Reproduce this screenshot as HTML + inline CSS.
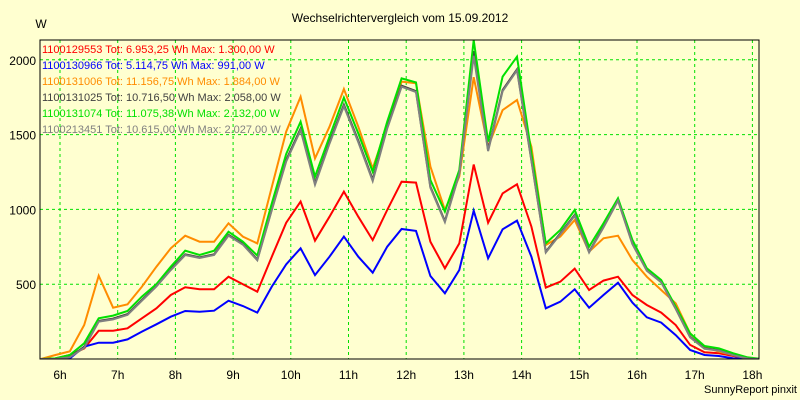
<!DOCTYPE html>
<html><head><meta charset="utf-8"><style>
body{margin:0;background:#ffffd0;}
svg{display:block;font-family:"Liberation Sans",sans-serif;}
</style></head><body>
<svg id="c" width="800" height="400" viewBox="0 0 800 400">
<rect x="0" y="0" width="800" height="400" fill="#ffffd0"/>
<text x="400" y="22" text-anchor="middle" font-size="12" fill="#000">Wechselrichtervergleich vom 15.09.2012</text>
<text x="41" y="28" text-anchor="middle" font-size="12" fill="#000">W</text>
<text x="797" y="393" text-anchor="end" font-size="11" fill="#000">SunnyReport pinxit</text>
<defs><clipPath id="clip"><rect x="40" y="40" width="719" height="319"/></clipPath></defs>
<g id="grid"></g><g id="series" clip-path="url(#clip)"></g><g id="legend"></g>
<rect x="40" y="40" width="719" height="319" fill="none" stroke="#000" stroke-width="1"/>
</svg>
<script>
const hourTicks=[6,7,8,9,10,11,12,13,14,15,16,17,18];
const yTicks=[500,1000,1500,2000];
const seriesNames=["1100129553","1100130966","1100131006","1100131025","1100131074","1100213451"];
const legendLabels=["1100129553 Tot: 6.953,25 Wh Max: 1.300,00 W","1100130966 Tot: 5.114,75 Wh Max: 991,00 W","1100131006 Tot: 11.156,75 Wh Max: 1.884,00 W","1100131025 Tot: 10.716,50 Wh Max: 2.058,00 W","1100131074 Tot: 11.075,38 Wh Max: 2.132,00 W","1100213451 Tot: 10.615,00 Wh Max: 2.027,00 W"];
const colors=["#ff0000","#0000ff","#ff8c00","#404040","#00e000","#808080"];
const startTime=5.67, stepHours=0.25;
const red=[0,4,27,71,189,189,205,272,339,428,479,466,466,550,499,450,684,911,1052,791,951,1119,951,795,996,1185,1179,784,606,773,1300,911,1107,1168,885,477,517,604,461,524,550,428,361,310,227,94,45,38,20,0,0];
const blue=[0,0,4,82,109,109,131,183,232,283,321,316,323,390,354,310,484,633,740,561,684,818,684,577,751,869,856,555,439,595,991,673,867,925,684,339,383,466,343,428,510,377,279,243,160,60,27,20,4,0,0];
const orange=[0,27,51,227,557,343,365,483,617,740,824,784,784,907,818,773,1150,1520,1753,1341,1553,1805,1553,1274,1560,1854,1843,1286,996,1219,1884,1419,1664,1731,1419,762,818,929,717,807,824,662,550,461,372,171,82,49,27,4,0];
const dark=[0,0,15,80,255,270,300,395,490,600,700,680,700,830,770,665,1000,1330,1540,1175,1450,1700,1460,1200,1550,1827,1791,1152,922,1241,2058,1397,1798,1936,1330,717,840,963,717,885,1063,773,595,517,339,149,71,60,27,4,0];
const green=[0,4,27,105,272,290,321,417,501,617,724,695,724,851,784,691,1040,1370,1586,1219,1486,1747,1508,1252,1586,1876,1849,1196,985,1263,2132,1453,1887,2021,1375,773,862,996,751,907,1074,796,606,528,350,171,87,71,38,11,0];
const gray=[0,0,12,75,250,265,295,390,485,595,695,675,695,825,765,660,995,1320,1530,1165,1440,1690,1450,1190,1540,1820,1785,1145,915,1235,2027,1390,1790,1930,1325,712,835,958,712,880,1058,768,590,512,335,145,68,56,25,3,0];
const allSeries=[red,blue,orange,dark,green,gray];
const NS="http://www.w3.org/2000/svg";
function xScale(t){return 60+(t-6)*57.7;}
function yScale(v){return 359-v*0.1496;}
const grid=document.getElementById('grid');
hourTicks.forEach(h=>{
  const l=document.createElementNS(NS,'line');
  l.setAttribute('x1',xScale(h));l.setAttribute('x2',xScale(h));l.setAttribute('y1',40);l.setAttribute('y2',359);
  l.setAttribute('stroke','#00e000');l.setAttribute('stroke-dasharray','3,3');
  
  
  grid.appendChild(l);
  const t=document.createElementNS(NS,'text');
  t.setAttribute('x',xScale(h));t.setAttribute('y',379);t.setAttribute('text-anchor','middle');t.setAttribute('font-size','12');
  t.textContent=h+'h';
  
  
  grid.appendChild(t);
});
yTicks.forEach(v=>{
  const l=document.createElementNS(NS,'line');
  l.setAttribute('x1',40);l.setAttribute('x2',759);l.setAttribute('y1',yScale(v));l.setAttribute('y2',yScale(v));
  l.setAttribute('stroke','#00e000');l.setAttribute('stroke-dasharray','3,3');
  
  
  grid.appendChild(l);
  const t=document.createElementNS(NS,'text');
  t.setAttribute('x',36);t.setAttribute('y',yScale(v)+5);t.setAttribute('text-anchor','end');t.setAttribute('font-size','12');
  t.textContent=v;
  
  
  grid.appendChild(t);
});
const sg=document.getElementById('series');
allSeries.forEach((s,i)=>{
  const p=document.createElementNS(NS,'polyline');
  p.setAttribute('points',s.map((v,k)=>xScale(startTime+k*stepHours).toFixed(1)+','+yScale(v).toFixed(1)).join(' '));
  p.setAttribute('fill','none');p.setAttribute('stroke',colors[i]);p.setAttribute('stroke-width','2');
  
  
  sg.appendChild(p);
});
const lg=document.getElementById('legend');
legendLabels.forEach((txt,i)=>{
  const t=document.createElementNS(NS,'text');
  t.setAttribute('x',42);t.setAttribute('y',53+i*16);t.setAttribute('font-size','11');t.setAttribute('fill',colors[i]);
  t.textContent=txt;
  
  
  lg.appendChild(t);
});
</script>
</body></html>
